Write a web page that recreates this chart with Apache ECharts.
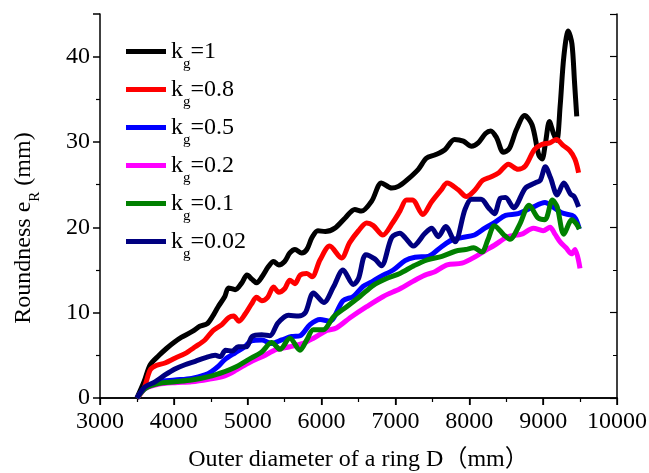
<!DOCTYPE html>
<html>
<head>
<meta charset="utf-8">
<script src="https://cdn.jsdelivr.net/npm/echarts@6/dist/echarts.min.js"></script>
<style>
  html, body { margin: 0; padding: 0; background: #fff; }
  #main { width: 649px; height: 473px; }
</style>
</head>
<body>
<div id="main"></div>
<script>
// roundness curves, [D (mm), eR (mm)]
var kg1 = [[3500,0],[3600,2.0],[3680,3.9],[3800,5.0],[3900,5.8],[4000,6.5],[4100,7.1],[4250,7.8],[4350,8.4],[4450,8.7],[4520,9.5],[4600,10.7],[4690,11.9],[4740,12.9],[4830,12.7],[4920,13.5],[4990,14.4],[5060,13.9],[5120,13.5],[5200,14.3],[5280,15.4],[5350,16.0],[5420,15.6],[5500,16.0],[5570,17.0],[5640,17.4],[5730,17.0],[5800,17.4],[5870,18.8],[5950,19.6],[6050,19.5],[6180,19.9],[6320,21.1],[6450,22.1],[6540,21.9],[6680,23.1],[6810,25.2],[6950,24.6],[7040,24.8],[7150,25.5],[7310,26.8],[7420,28.1],[7540,28.5],[7670,29.1],[7800,30.3],[7920,30.1],[8030,29.5],[8120,29.9],[8220,31.0],[8290,31.3],[8370,30.5],[8460,28.8],[8540,29.2],[8640,31.5],[8750,33.1],[8850,32.0],[8940,28.5],[8985,28.0],[9030,29.8],[9085,32.4],[9140,31.0],[9185,30.2],[9230,34.2],[9280,40.0],[9340,43.0],[9390,41.5],[9425,37.0],[9455,33.0]];
var kg08 = [[3500,0],[3590,1.0],[3680,3.3],[3760,3.8],[3880,4.1],[4020,4.7],[4150,5.2],[4290,6.0],[4420,6.8],[4530,7.9],[4650,8.6],[4740,9.4],[4810,9.6],[4880,9.0],[4970,9.9],[5050,11.0],[5120,11.8],[5190,11.4],[5270,11.8],[5350,13.0],[5420,12.4],[5500,12.8],[5570,13.8],[5640,13.4],[5710,14.4],[5800,14.6],[5870,14.2],[5980,16.2],[6110,17.8],[6270,16.4],[6380,18.2],[6500,19.6],[6610,20.5],[6700,20.2],[6830,19.1],[6960,20.5],[7060,21.9],[7150,23.2],[7230,23.2],[7370,21.5],[7490,23.0],[7620,24.4],[7700,25.2],[7850,24.4],[7960,23.6],[8080,24.4],[8180,25.5],[8290,25.9],[8400,26.4],[8530,27.4],[8660,26.8],[8760,27.2],[8880,29.1],[8980,29.7],[9090,29.9],[9180,30.3],[9270,29.6],[9360,29.0],[9430,28.0],[9480,26.4]];
var kg05 = [[3500,0],[3610,1.1],[3790,1.9],[4015,2.1],[4240,2.3],[4420,2.7],[4510,3.1],[4600,3.7],[4690,4.5],[4830,5.3],[4960,6.0],[5050,6.7],[5190,6.8],[5320,6.4],[5460,6.8],[5595,7.2],[5710,7.3],[5843,8.6],[5980,9.2],[6110,9.0],[6290,11.4],[6430,11.9],[6565,13.1],[6680,13.6],[6790,14.2],[6970,15.0],[7130,16.1],[7265,16.5],[7445,16.6],[7620,17.7],[7760,18.5],[7900,18.8],[8070,19.1],[8210,19.9],[8350,20.6],[8490,21.4],[8660,21.6],[8845,22.3],[9025,22.9],[9115,22.5],[9250,21.7],[9390,21.4],[9440,21.0],[9490,19.8]];
var kg02 = [[3500,0],[3610,1.1],[3790,1.6],[4015,1.8],[4240,1.9],[4470,2.2],[4690,2.6],[4850,3.3],[5030,4.2],[5210,4.9],[5390,5.7],[5570,6.0],[5750,6.4],[5890,7.0],[6070,7.9],[6200,8.2],[6385,9.4],[6610,10.7],[6836,11.9],[7062,12.8],[7243,13.7],[7400,14.4],[7535,14.8],[7700,15.6],[7900,15.8],[8090,16.6],[8220,17.3],[8340,17.9],[8520,18.9],[8710,19.2],[8867,19.9],[9000,19.6],[9093,20.0],[9160,19.2],[9230,18.3],[9310,17.6],[9386,16.9],[9431,17.4],[9499,15.2]];
var kg01 = [[3500,0],[3610,1.1],[3790,1.7],[4015,1.9],[4240,2.1],[4470,2.5],[4690,3.1],[4830,3.6],[5010,4.5],[5190,5.4],[5324,6.5],[5437,5.7],[5570,7.0],[5708,5.6],[5800,6.8],[5888,8.0],[6024,8.0],[6160,9.5],[6340,10.7],[6520,11.9],[6700,13.2],[6880,14.0],[7060,14.6],[7250,15.5],[7430,16.2],[7630,16.6],[7810,17.2],[7950,17.4],[8060,17.6],[8170,17.1],[8250,18.5],[8340,20.2],[8470,19.1],[8550,18.6],[8680,20.3],[8810,22.6],[8930,21.1],[9025,20.9],[9125,23.2],[9190,22.4],[9280,19.2],[9390,20.9],[9450,20.4],[9490,19.8]];
var kg002 = [[3500,0],[3610,1.3],[3745,1.9],[3880,2.7],[4015,3.4],[4150,3.9],[4290,4.3],[4420,4.7],[4560,5.0],[4630,4.85],[4700,5.6],[4790,5.5],[4870,6.0],[4980,6.0],[5060,7.2],[5190,7.4],[5300,7.3],[5410,8.8],[5550,9.7],[5690,9.6],[5780,10.0],[5890,12.3],[6030,11.2],[6160,13.0],[6290,15.0],[6430,13.3],[6500,14.0],[6600,16.8],[6720,16.3],[6810,15.5],[6950,18.8],[7060,19.3],[7150,18.6],[7240,17.8],[7400,19.3],[7490,19.9],[7580,18.9],[7680,20.1],[7806,18.3],[7942,22.1],[8030,23.3],[8160,23.3],[8260,22.3],[8340,21.6],[8420,23.4],[8490,23.5],[8600,22.3],[8760,24.6],[8890,25.2],[8960,25.5],[9030,27.1],[9100,25.8],[9190,23.8],[9280,25.2],[9370,23.9],[9420,23.6],[9480,22.4]];

var kgValues = ['1', '0.8', '0.5', '0.2', '0.1', '0.02'];
var curves = [kg1, kg08, kg05, kg02, kg01, kg002];
var colors = ['#000000', '#ff0000', '#0000ff', '#ff00ff', '#008000', '#000080'];

var serif = "'Liberation Serif', 'Times New Roman', 'Noto Sans CJK SC', serif";

var myChart = echarts.init(document.getElementById('main'));

var series = [];
for (var i = 0; i < curves.length; i++) {
  series.push({
    name: 'kg=' + kgValues[i],
    type: 'line',
    data: curves[i],
    smooth: 0.3,
    showSymbol: false,
    symbol: 'none',
    lineStyle: { width: 5, color: colors[i] },
    itemStyle: { color: colors[i] },
    z: 2 + i
  });
}

var tickTxt = {
  color: '#000', fontFamily: serif, fontSize: 24,
  formatter: function (v) { return String(v); }
};

var option = {
  animation: false,
  backgroundColor: '#fff',
  grid: { left: 100, right: 32, top: 14, bottom: 75, containLabel: false, outerBoundsMode: 'none' },
  legend: {
    orient: 'vertical',
    left: 121,
    top: 26,
    itemWidth: 40,
    itemHeight: 5,
    itemGap: -3,
    icon: 'rect',
    data: series.map(function (s) { return s.name; }),
    formatter: function (name) {
      return '{k|k}{g|g}{k|=' + name.split('=')[1] + '}';
    },
    textStyle: {
      fontFamily: serif,
      color: '#000',
      rich: {
        k: { fontSize: 24, fontFamily: serif, color: '#000', lineHeight: 24 },
        g: { fontSize: 15, fontFamily: serif, color: '#000', lineHeight: 24, padding: [26, 0, 0, 0] }
      }
    }
  },
  xAxis: [{
    type: 'value',
    min: 3000, max: 10000, interval: 1000,
    name: 'Outer diameter of a ring D（mm）',
    nameLocation: 'middle',
    nameGap: 50,
    nameTextStyle: { color: '#000', fontFamily: serif, fontSize: 24 },
    axisLine: { lineStyle: { color: '#000', width: 1.5 } },
    axisTick: { inside: false, length: 7, lineStyle: { color: '#000', width: 1.5 } },
    minorTick: { show: true, splitNumber: 2, length: 4, lineStyle: { color: '#000', width: 1.2 } },
    axisLabel: Object.assign({ margin: 12 }, tickTxt),
    splitLine: { show: false }
  }, {
    type: 'value', position: 'top',
    min: 3000, max: 10000, interval: 1000,
    axisLine: { lineStyle: { color: '#000', width: 1.5 } },
    axisTick: { inside: true, length: 7, lineStyle: { color: '#000', width: 1.2 } },
    minorTick: { show: true, splitNumber: 2, length: 4, lineStyle: { color: '#000', width: 1 } },
    axisLabel: { show: false },
    splitLine: { show: false }
  }],
  yAxis: [{
    type: 'value',
    min: 0, max: 45, interval: 10,
    name: '{a|Roundness e}{s|R}{a| (mm)}',
    nameLocation: 'middle',
    nameGap: 64,
    nameTextStyle: {
      color: '#000', fontFamily: serif, fontSize: 24,
      padding: [0, 44, 0, 0],
      rich: {
        a: { fontSize: 24, fontFamily: serif, color: '#000', lineHeight: 24 },
        s: { fontSize: 15, fontFamily: serif, color: '#000', lineHeight: 24, padding: [22, 0, 0, 0] }
      }
    },
    axisLine: { lineStyle: { color: '#000', width: 1.5 } },
    axisTick: { inside: false, length: 7, lineStyle: { color: '#000', width: 1.5 } },
    minorTick: { show: true, splitNumber: 2, length: 4, lineStyle: { color: '#000', width: 1.2 } },
    axisLabel: Object.assign({ margin: 10, showMaxLabel: false }, tickTxt),
    splitLine: { show: false }
  }, {
    type: 'value', position: 'right',
    min: 0, max: 45, interval: 10,
    axisLine: { show: true, lineStyle: { color: '#000', width: 1.5 } },
    axisTick: { show: true, inside: true, length: 7, lineStyle: { color: '#000', width: 1.2 } },
    minorTick: { show: true, splitNumber: 2, length: 4, lineStyle: { color: '#000', width: 1 } },
    axisLabel: { show: false },
    splitLine: { show: false }
  }],
  series: series
};

option && myChart.setOption(option);
</script>
</body>
</html>
